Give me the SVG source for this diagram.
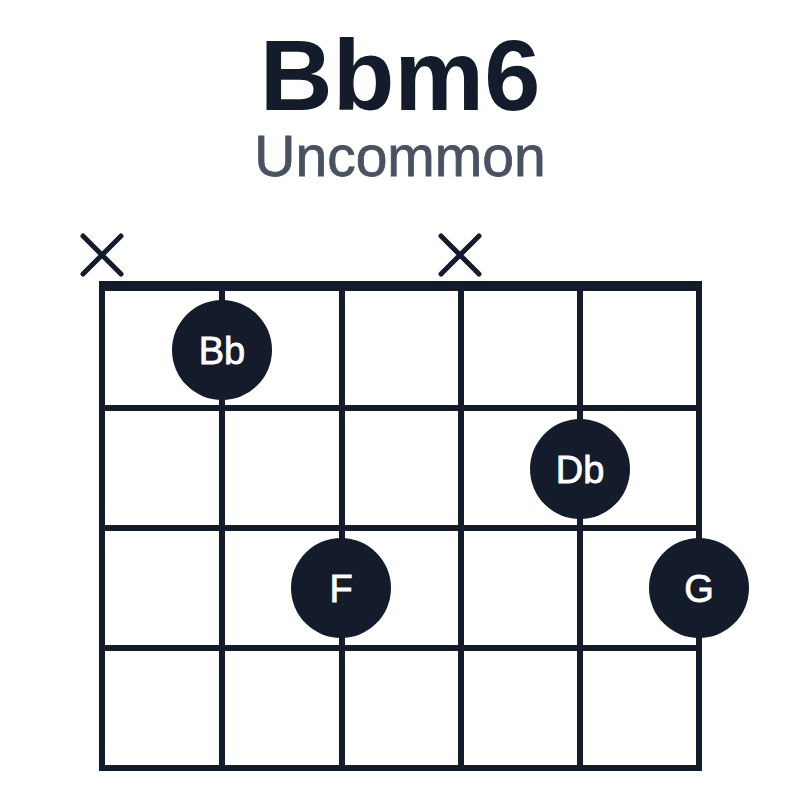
<svg xmlns="http://www.w3.org/2000/svg" width="800" height="800" viewBox="0 0 800 800">
<style>
.l{stroke:#141b2a;stroke-width:6;stroke-linecap:square}
.x{stroke:#141b2a;stroke-width:5;stroke-linecap:round}
.d{fill:#141b2a}
.t{fill:#fff;stroke:#fff;stroke-width:0.8;font-family:"Liberation Sans",Arial,sans-serif;font-size:38px;text-anchor:middle}
</style>
<rect width="800" height="800" fill="#fff"/>
<text x="400" y="110" text-anchor="middle" font-family="Liberation Sans,Arial,sans-serif" font-weight="bold" font-size="101" fill="#141b2a">Bbm6</text>
<text x="400" y="176" text-anchor="middle" font-family="Liberation Sans,Arial,sans-serif" font-size="57" fill="#4a5262" stroke="#4a5262" stroke-width="0.8">Uncommon</text>
<g id="grid">
<line class="l" x1="102" y1="286" x2="102" y2="768"/>
<line class="l" x1="222" y1="286" x2="222" y2="768"/>
<line class="l" x1="342" y1="286" x2="342" y2="768"/>
<line class="l" x1="461" y1="286" x2="461" y2="768"/>
<line class="l" x1="580" y1="286" x2="580" y2="768"/>
<line class="l" x1="699" y1="286" x2="699" y2="768"/>
<line x1="99" y1="286" x2="702" y2="286" stroke="#141b2a" stroke-width="10"/>
<line class="l" x1="102" y1="408" x2="699" y2="408"/>
<line class="l" x1="102" y1="528" x2="699" y2="528"/>
<line class="l" x1="102" y1="648" x2="699" y2="648"/>
<line class="l" x1="102" y1="768" x2="699" y2="768"/>
</g>
<g id="mutes">
<path class="x" d="M83 236L121 274M121 236L83 274"/>
<path class="x" d="M441 236L479 274M479 236L441 274"/>
</g>
<g id="n-Bb"><circle class="d" cx="222" cy="350" r="50"/><text class="t" x="222" y="364">Bb</text></g>
<g id="n-Db"><circle class="d" cx="580" cy="469" r="50"/><text class="t" x="580" y="483">Db</text></g>
<g id="n-F"><circle class="d" cx="341" cy="588" r="50"/><text class="t" x="341" y="602">F</text></g>
<g id="n-G"><circle class="d" cx="699" cy="588" r="50"/><text class="t" x="699" y="602">G</text></g>
</svg>
